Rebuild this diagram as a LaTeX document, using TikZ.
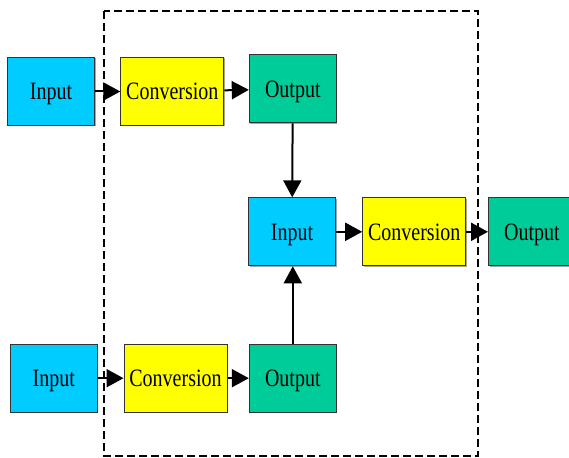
\documentclass[tikz,border=0pt]{standalone}
\usepackage{fontspec}
\setmainfont{Liberation Serif}[FakeStretch=0.8]
\usetikzlibrary{arrows.meta,shadows}
\definecolor{inblue}{HTML}{00CCFF}
\definecolor{convyellow}{HTML}{FFFF00}
\definecolor{outgreen}{HTML}{00CC99}
\definecolor{edge}{HTML}{333333}
\tikzset{
  box/.style={draw=edge, line width=1pt, minimum height=68pt, inner sep=0pt,
    text height=17pt, text depth=0pt,
    font=\fontsize{25}{25}\selectfont,
    drop shadow={shadow xshift=1pt, shadow yshift=-1pt, fill=gray!70, opacity=1}},
  inbox/.style={box, fill=inblue, minimum width=87pt},
  convbox/.style={box, fill=convyellow, minimum width=103pt},
  outbox/.style={box, fill=outgreen, minimum width=87pt},
  conn/.style={line width=2pt, -{Triangle[length=17pt, width=18pt]}},
  frame/.style={line width=2pt, dash pattern=on 8pt off 4pt}
}
\begin{document}
\begin{tikzpicture}[x=1pt, y=-1pt]
\useasboundingbox (0,0) rectangle (569,457);
\draw[frame] (104,11) rectangle (478,456);
\node[inbox]   (i1) at (51,91.5)    {Input};
\node[convbox] (c1) at (172.3,91.5) {Conversion};
\node[outbox]  (o1) at (292.8,88.8) {Output};
\node[inbox]   (i2) at (292,231.8)  {Input};
\node[convbox] (c2) at (414.2,231.8) {Conversion};
\node[outbox]  (o2) at (532,231.8)  {Output};
\node[inbox]   (i3) at (53.8,378.2) {Input};
\node[convbox] (c3) at (175.5,378.2) {Conversion};
\node[outbox]  (o3) at (292.8,378.2) {Output};
\draw[conn] (i1) -- (c1);
\draw[conn] (c1) -- (o1);
\draw[conn] (o1) -- (i2);
\draw[conn] (i2) -- (c2);
\draw[conn] (c2) -- (o2);
\draw[conn] (i3) -- (c3);
\draw[conn] (c3) -- (o3);
\draw[conn] (o3.north) -- (o3.north |- i2.south);
\end{tikzpicture}
\end{document}
